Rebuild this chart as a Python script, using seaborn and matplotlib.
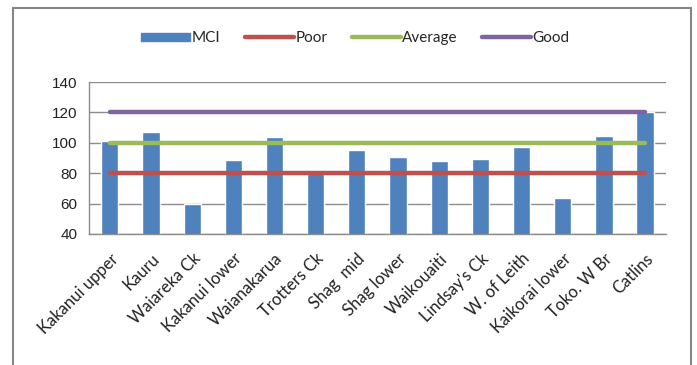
import matplotlib
matplotlib.use("Agg")
import matplotlib.pyplot as plt
import seaborn as sns
import pandas as pd
from matplotlib.patches import Rectangle
from matplotlib.lines import Line2D
from matplotlib.ticker import FixedLocator

sites = ["Kakanui upper", "Kauru", "Waiareka Ck", "Kakanui lower", "Waianakarua",
         "Trotters Ck", "Shag  mid", "Shag lower", "Waikouaiti", "Lindsay's Ck",
         "W. of Leith", "Kaikorai lower", "Toko. W Br", "Catlins"]
mci = [101, 107, 60, 89, 104, 82, 95, 91, 88, 89.5, 97, 64, 104.5, 120]
poor = 80
average = 100
good = 120

colors = {"MCI": "#4F81BD", "Poor": "#C0504D", "Average": "#9BBB59", "Good": "#8064A2"}

sns.set_style("white")
plt.rcParams["font.family"] = ["Liberation Sans", "DejaVu Sans"]

df = pd.DataFrame({"site": sites, "MCI": mci})

fig = plt.figure(figsize=(6.97, 3.65), dpi=100)
ax = fig.add_axes([0.128, 0.359, 0.827, 0.416])

sns.barplot(data=df, x="site", y="MCI", color=colors["MCI"], width=0.42,
            saturation=1, ax=ax, zorder=2)

xs = list(range(len(sites)))
for name, val in [("Poor", poor), ("Average", average), ("Good", good)]:
    ax.plot(xs, [val] * len(xs), color=colors[name], lw=3.2,
            solid_capstyle="round", zorder=3)

ax.set_ylim(40, 140)
ax.set_xlim(-0.5, len(sites) - 0.5)
ax.set_yticks(range(40, 141, 20))
ax.yaxis.grid(True, color="#8c8c8c", lw=1)
ax.set_axisbelow(True)
ax.set_xlabel("")
ax.set_ylabel("")

for s in ["top", "right"]:
    ax.spines[s].set_visible(False)
for s in ["left", "bottom"]:
    ax.spines[s].set_color("#8c8c8c")
    ax.spines[s].set_linewidth(1)

ax.tick_params(axis="y", length=5, color="#8c8c8c", labelsize=11, labelcolor="#222222")
ax.tick_params(axis="x", which="major", length=0, pad=12)
ax.xaxis.set_minor_locator(FixedLocator([i - 0.5 for i in range(len(sites) + 1)]))
ax.tick_params(axis="x", which="minor", length=5, color="#8c8c8c")
ax.set_xticks(xs)
ax.set_xticklabels(sites, rotation=45, ha="right", rotation_mode="anchor",
                   fontsize=12, family=["Lato", "DejaVu Sans"], color="#222222")

handles = [
    Rectangle((0, 0), 1, 1, color=colors["MCI"]),
    Line2D([], [], color=colors["Poor"], lw=3.2),
    Line2D([], [], color=colors["Average"], lw=3.2),
    Line2D([], [], color=colors["Good"], lw=3.2),
]
fig.legend(handles, ["MCI", "Poor", "Average", "Good"], loc="center",
           bbox_to_anchor=(0.51, 0.895), ncol=4, frameon=False,
           handlelength=3.2, handleheight=0.5, handletextpad=0.1,
           columnspacing=1.6, prop={"family": ["Lato", "DejaVu Sans"], "size": 11})

fig.patches.append(Rectangle((13 / 697, -0.05), 678 / 697, 1 - 8 / 365 + 0.05,
                             transform=fig.transFigure, fill=False,
                             edgecolor="#858585", lw=1.5))

fig.savefig("out.png", dpi=100)
